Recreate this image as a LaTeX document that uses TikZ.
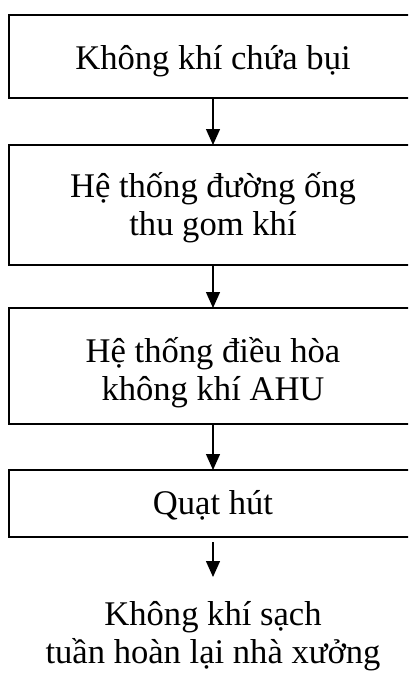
\documentclass[tikz,border=0pt]{standalone}
\usepackage{fontspec}
\setmainfont{Liberation Serif}
\usetikzlibrary{arrows.meta}
\begin{document}
\begin{tikzpicture}[x=1pt,y=1pt,
  caption/.style={font=\fontsize{34.6pt}{38pt}\selectfont, align=center, inner sep=0pt, outer sep=0pt},
  stagebox/.style={draw=black, line width=1.3pt, minimum width=408pt, anchor=north, inner sep=0pt, outer sep=0pt},
  flow/.style={draw=black, line width=1.3pt, -{Triangle[length=16pt,width=14pt]}}]
  \fill[white] (0,0) rectangle (408,-675);
  \clip (0,0) rectangle (408,-675);
  \useasboundingbox (0,0) rectangle (408,-675);

  % process stages, top to bottom
  \node[stagebox, minimum height=83pt]  (b1) at (213,-15)  {};
  \node[stagebox, minimum height=120pt] (b2) at (213,-145) {};
  \node[stagebox, minimum height=116pt] (b3) at (213,-308) {};
  \node[stagebox, minimum height=67pt]  (b4) at (213,-470) {};

  % stage captions
  \node[caption] (t1) at (213,-61.5) {Không khí chứa bụi};
  \node[caption] (t2) at (213,-208)  {Hệ thống đường ống\\thu gom khí};
  \node[caption] (t3) at (213,-373)  {Hệ thống điều hòa\\không khí AHU};
  \node[caption] (t4) at (213,-505)  {Quạt hút};

  % outlet
  \node[caption] (out) at (213,-636) {Không khí sạch\\tuần hoàn lại nhà xưởng};
  \coordinate (a4s) at (213,-542);
  \coordinate (a4e) at (213,-577);

  % connectors
  \draw[flow] (b1.south) -- (b2.north);
  \draw[flow] (b2.south) -- (b3.north);
  \draw[flow] (b3.south) -- (b4.north);
  \draw[flow] (a4s) -- (a4e);
\end{tikzpicture}
\end{document}
